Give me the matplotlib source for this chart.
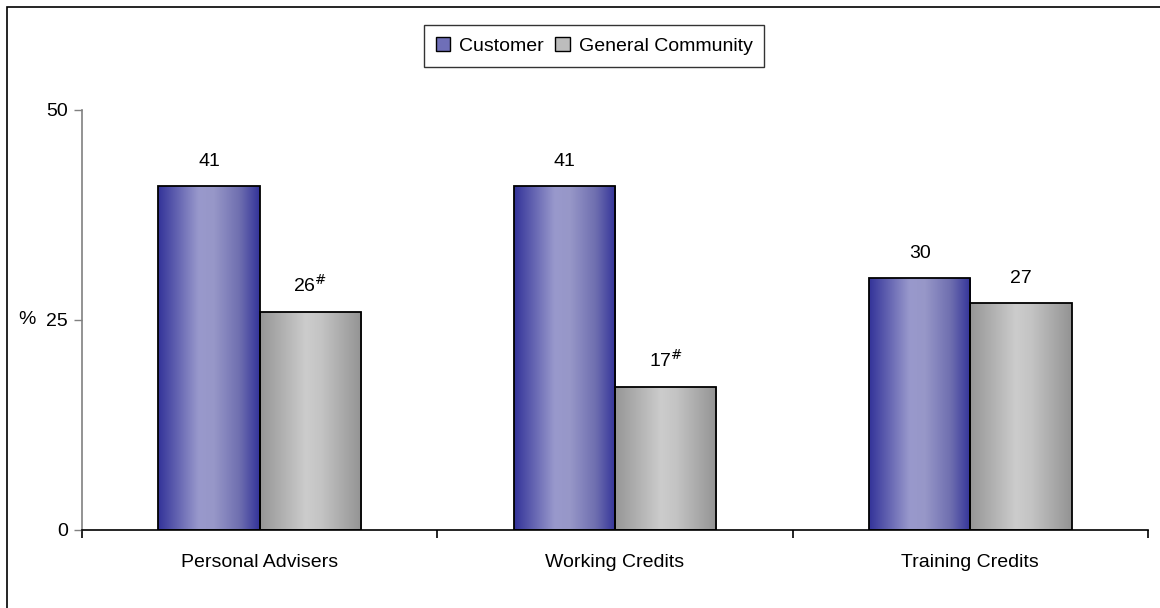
import numpy as np
import matplotlib.pyplot as plt
from matplotlib.patches import Rectangle
from matplotlib.colors import LinearSegmentedColormap

plt.rcParams['font.family'] = ['Liberation Sans', 'DejaVu Sans']

categories = ['Personal Advisers', 'Working Credits', 'Training Credits']
series_names = ['Customer', 'General Community']
customer = [41, 41, 30]
community = [26, 17, 27]
customer_labels = ['41', '41', '30']
community_labels = [r'26$^{\#}$', r'17$^{\#}$', '27']

# horizontal shading for each series: dark edges, light centre
blue_cmap = LinearSegmentedColormap.from_list(
    'blue_bar', [(0, '#333399'), (0.4, '#9999cc'), (0.55, '#9797c8'), (0.8, '#6f6fb0'), (1, '#333399')])
grey_cmap = LinearSegmentedColormap.from_list(
    'grey_bar', [(0, '#969696'), (0.45, '#cccccc'), (0.6, '#c4c4c4'), (1, '#939393')])

fig = plt.figure(figsize=(11.6, 6.08), dpi=100)
ax = fig.add_axes([82 / 1160, 1 - 530 / 608, (1148 - 82) / 1160, 420 / 608])

# frame around the whole chart
fig.patches.append(Rectangle((7 / 1160, -0.1), 1.1, 1 - 7 / 608 + 0.1,
                             transform=fig.transFigure, fill=False,
                             edgecolor='black', linewidth=1.2))

width = 0.285
x = np.arange(len(categories))
grad = np.linspace(0, 1, 256).reshape(1, -1)


def shaded_bars(xpos, values, cmap):
    bars = ax.bar(xpos, values, width, facecolor='none', edgecolor='black',
                  linewidth=1.3, zorder=3)
    for b in bars:
        x0, w, h = b.get_x(), b.get_width(), b.get_height()
        im = ax.imshow(grad, cmap=cmap, aspect='auto', extent=(x0, x0 + w, 0, h),
                       zorder=2, interpolation='bicubic')
        im.set_clip_path(b)
    return bars


cust_bars = shaded_bars(x - width / 2, customer, blue_cmap)
comm_bars = shaded_bars(x + width / 2, community, grey_cmap)

for bars, labels in [(cust_bars, customer_labels), (comm_bars, community_labels)]:
    for b, lab in zip(bars, labels):
        ax.text(b.get_x() + b.get_width() / 2, b.get_height() + 1.9, lab,
                ha='center', va='bottom', fontsize=14)

ax.set_xlim(-0.5, len(categories) - 0.5)
ax.set_ylim(0, 50)
ax.set_yticks([0, 25, 50])
ax.set_yticklabels(['0', '25', '50'], fontsize=14)
ax.tick_params(axis='y', direction='out', length=6, width=1, color='#808080', pad=4)

# category labels centred, ticks at group boundaries
ax.set_xticks(np.arange(len(categories) + 1) - 0.5)
ax.set_xticklabels([])
ax.tick_params(axis='x', direction='out', length=6, width=1.2, color='black')
for xi, cat in zip(x, categories):
    ax.text(xi, -2.9, cat, ha='center', va='top', fontsize=14)

ax.text(-0.5 - 64 / 355, 25, '%', ha='left', va='center', fontsize=14)

ax.spines['top'].set_visible(False)
ax.spines['right'].set_visible(False)
ax.spines['left'].set_color('#808080')
ax.spines['left'].set_linewidth(1.2)
ax.spines['bottom'].set_linewidth(1.2)

# legend with small shaded squares
handles = [Rectangle((0, 0), 1, 1, facecolor='#6f6fb8', edgecolor='black'),
           Rectangle((0, 0), 1, 1, facecolor='#bdbdbd', edgecolor='black')]
leg = fig.legend(handles, series_names, loc='center', bbox_to_anchor=(594 / 1160, 1 - 46 / 608),
                 ncol=2, fontsize=14, frameon=True, fancybox=False, edgecolor='black',
                 handlelength=0.75, handleheight=0.75, handletextpad=0.45, columnspacing=0.6,
                 borderpad=0.6, borderaxespad=0)
leg.get_frame().set_linewidth(1.0)

fig.savefig('out.png', dpi=100)
